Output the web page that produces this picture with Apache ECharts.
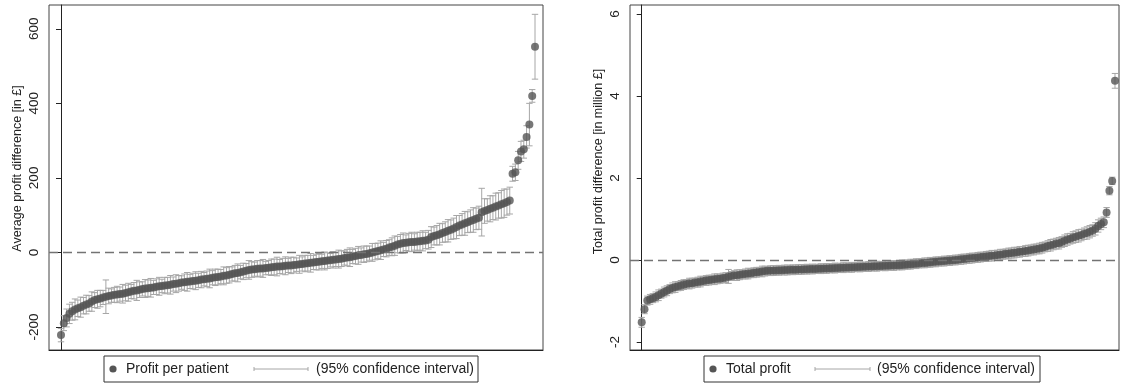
<!DOCTYPE html>
<html>
<head>
<meta charset="utf-8">
<script src="https://cdn.jsdelivr.net/npm/echarts@6/dist/echarts.min.js"></script>
<style>
html, body { margin: 0; padding: 0; background: #fff; }
#chart { width: 1121px; height: 385px; }
</style>
</head>
<body>
<div id="chart"></div>
<script>
// Average profit difference per patient (£), hospitals ranked by estimate
const profitPerPatient = [
  -222, -190, -176, -165, -158, -153, -150, -147, -143, -140,
  -137, -132, -128, -126, -124, -121, -119, -117, -116, -114,
  -113, -112, -111, -109, -107, -105, -103, -102, -100, -98,
  -97, -96, -95, -94, -92, -91, -90, -89, -88, -87,
  -85, -84, -83, -81, -80, -79, -78, -77, -76, -75,
  -73, -72, -71, -70, -68, -67, -66, -65, -63, -62,
  -60, -58, -56, -55, -53, -51, -49, -47, -46, -45,
  -44, -43, -43, -42, -41, -40, -39, -38, -38, -37,
  -36, -35, -35, -34, -33, -32, -31, -30, -29, -28,
  -27, -26, -25, -24, -23, -22, -21, -20, -19, -18,
  -17, -15, -14, -13, -11, -10, -8, -7, -5, -4,
  -2, 0, 2, 4, 6, 8, 10, 13, 15, 18,
  21, 23, 25, 26, 27, 28, 28, 29, 30, 31,
  32, 34, 41, 44, 46, 49, 52, 55, 58, 61,
  64, 68, 72, 75, 78, 81, 84, 87, 90, 93,
  108, 111, 114, 117, 120, 123, 126, 129, 132, 135,
  139, 211, 215, 247, 271, 277, 310, 343, 420, 552
];
// Half-width of the 95% confidence interval (£)
const profitPerPatientCI = [
  18, 20, 24, 26, 24, 28, 22, 27, 22, 25,
  21, 26, 20, 24, 22, 19, 45, 21, 18, 20,
  22, 19, 25, 21, 24, 19, 22, 27, 21, 19,
  24, 22, 25, 19, 21, 24, 18, 22, 21, 25,
  19, 24, 21, 18, 22, 25, 19, 21, 24, 19,
  22, 18, 21, 25, 19, 22, 21, 19, 24, 21,
  22, 19, 21, 24, 18, 22, 19, 25, 21, 19,
  22, 21, 24, 18, 19, 22, 21, 25, 19, 21,
  24, 19, 22, 21, 18, 24, 19, 22, 21, 25,
  19, 21, 22, 19, 24, 21, 18, 22, 19, 24,
  21, 19, 22, 25, 19, 21, 24, 19, 22, 21,
  19, 24, 22, 21, 25, 19, 22, 21, 24, 26,
  22, 25, 27, 21, 24, 26, 22, 25, 24, 27,
  22, 25, 28, 24, 26, 29, 25, 27, 30, 26,
  28, 31, 27, 29, 32, 28, 30, 33, 29, 31,
  64, 33, 30, 35, 32, 36, 34, 37, 38, 35,
  36, 20, 22, 24, 27, 24, 30, 57, 17, 87
];
// Total profit difference per hospital (million £), ranked by estimate
const totalProfit = [
  -1.52, -1.20, -0.99, -0.96, -0.93, -0.90, -0.86, -0.82, -0.78, -0.75,
  -0.71, -0.68, -0.66, -0.64, -0.62, -0.60, -0.585, -0.575, -0.565, -0.55,
  -0.54, -0.525, -0.51, -0.50, -0.49, -0.48, -0.47, -0.46, -0.455, -0.44,
  -0.43, -0.40, -0.39, -0.38, -0.37, -0.36, -0.35, -0.34, -0.33, -0.32,
  -0.31, -0.30, -0.29, -0.28, -0.27, -0.265, -0.26, -0.257, -0.254, -0.251,
  -0.248, -0.245, -0.243, -0.240, -0.238, -0.235, -0.232, -0.229, -0.226, -0.224,
  -0.222, -0.220, -0.217, -0.214, -0.211, -0.208, -0.205, -0.202, -0.199, -0.196,
  -0.193, -0.190, -0.187, -0.184, -0.181, -0.178, -0.175, -0.172, -0.169, -0.166,
  -0.163, -0.160, -0.157, -0.154, -0.151, -0.148, -0.145, -0.142, -0.139, -0.136,
  -0.133, -0.130, -0.127, -0.121, -0.115, -0.108, -0.102, -0.095, -0.089, -0.083,
  -0.076, -0.070, -0.064, -0.057, -0.051, -0.045, -0.038, -0.032, -0.026, -0.019,
  -0.013, -0.006, 0.000, 0.008, 0.016, 0.024, 0.032, 0.040, 0.048, 0.056,
  0.064, 0.072, 0.080, 0.088, 0.096, 0.104, 0.112, 0.121, 0.130, 0.14,
  0.15, 0.16, 0.17, 0.18, 0.19, 0.20, 0.21, 0.22, 0.23, 0.245,
  0.255, 0.27, 0.28, 0.30, 0.32, 0.34, 0.36, 0.38, 0.40, 0.41,
  0.44, 0.47, 0.50, 0.52, 0.55, 0.57, 0.59, 0.61, 0.64, 0.66,
  0.69, 0.72, 0.76, 0.83, 0.88, 0.92, 1.16, 1.69, 1.93, 4.37
];
// Half-width of the 95% confidence interval (million £)
const totalProfitCI = [
  0.12, 0.11, 0.11, 0.12, 0.11, 0.12, 0.13, 0.11, 0.12, 0.12,
  0.11, 0.12, 0.13, 0.11, 0.12, 0.12, 0.11, 0.13, 0.12, 0.11,
  0.12, 0.13, 0.11, 0.12, 0.12, 0.11, 0.13, 0.12, 0.11, 0.12,
  0.12, 0.17, 0.11, 0.12, 0.13, 0.12, 0.11, 0.12, 0.13, 0.11,
  0.12, 0.12, 0.11, 0.13, 0.12, 0.11, 0.12, 0.12, 0.11, 0.12,
  0.11, 0.12, 0.12, 0.11, 0.12, 0.11, 0.12, 0.12, 0.11, 0.12,
  0.11, 0.12, 0.11, 0.11, 0.12, 0.11, 0.12, 0.11, 0.11, 0.12,
  0.11, 0.11, 0.12, 0.11, 0.11, 0.12, 0.11, 0.11, 0.12, 0.11,
  0.11, 0.12, 0.11, 0.11, 0.12, 0.11, 0.11, 0.12, 0.11, 0.11,
  0.12, 0.11, 0.11, 0.12, 0.11, 0.11, 0.12, 0.11, 0.12, 0.11,
  0.11, 0.12, 0.11, 0.12, 0.11, 0.12, 0.11, 0.11, 0.12, 0.11,
  0.12, 0.11, 0.12, 0.11, 0.12, 0.12, 0.11, 0.12, 0.12, 0.11,
  0.12, 0.12, 0.11, 0.12, 0.12, 0.13, 0.12, 0.12, 0.13, 0.12,
  0.12, 0.13, 0.12, 0.13, 0.12, 0.13, 0.12, 0.13, 0.13, 0.12,
  0.13, 0.12, 0.13, 0.13, 0.12, 0.13, 0.14, 0.13, 0.13, 0.14,
  0.13, 0.14, 0.14, 0.13, 0.14, 0.14, 0.15, 0.14, 0.14, 0.15,
  0.15, 0.14, 0.15, 0.15, 0.14, 0.13, 0.12, 0.10, 0.09, 0.18
];
const leftTicks = [-200, 0, 200, 400, 600];
const rightTicks = [-2, 0, 2, 4, 6];

const FONT = 'Liberation Sans, Arial, Helvetica, sans-serif';
const DOT = '#555555';
const BAR = '#a6a6a6';
const INK = '#222';

const chart = echarts.init(document.getElementById('chart'), null, { renderer: 'canvas' });

// Vertical interval with a cap at each end
function ciBar(params, api) {
  const x = api.value(0);
  const top = api.coord([x, api.value(2)]);
  const bot = api.coord([x, api.value(1)]);
  const w = 3.2;
  const st = { stroke: BAR, lineWidth: 1 };
  return {
    type: 'group',
    children: [
      { type: 'line', shape: { x1: top[0], y1: top[1], x2: bot[0], y2: bot[1] }, style: st },
      { type: 'line', shape: { x1: top[0] - w, y1: top[1], x2: top[0] + w, y2: top[1] }, style: st },
      { type: 'line', shape: { x1: bot[0] - w, y1: bot[1], x2: bot[0] + w, y2: bot[1] }, style: st }
    ]
  };
}

function yAxisOf(gridIndex, min, max, ticks, title, shiftUp) {
  return {
    gridIndex, type: 'value', min, max,
    axisLine: { show: true, lineStyle: { color: INK, width: 1 } },
    axisTick: { show: true, length: 5, customValues: ticks, lineStyle: { color: INK } },
    axisLabel: { customValues: ticks, rotate: 90, margin: 8, color: INK, fontSize: 13.5, fontFamily: FONT },
    splitLine: { show: false },
    name: title, nameLocation: 'middle', nameGap: 25,
    nameTextStyle: { color: INK, fontSize: 12.5, fontFamily: FONT, padding: [0, 0, 0, shiftUp * 2] }
  };
}

function xAxisOf(gridIndex, min, max) {
  return {
    gridIndex, type: 'value', min, max,
    axisLine: { show: true, onZero: false, lineStyle: { color: INK, width: 1 } },
    axisTick: { show: false }, axisLabel: { show: false }, splitLine: { show: false }
  };
}

function seriesOf(idx, values, ci) {
  const zeroLine = {
    silent: true, symbol: 'none', label: { show: false },
    lineStyle: { color: '#737373', type: [9, 5], width: 1.4 },
    data: [{ yAxis: 0 }]
  };
  return [
    {
      type: 'custom', xAxisIndex: idx, yAxisIndex: idx,
      renderItem: ciBar, encode: { x: 0, y: [1, 2] },
      data: values.map((v, i) => [i, v - ci[i], v + ci[i]]),
      markLine: zeroLine, z: 2
    },
    {
      type: 'scatter', xAxisIndex: idx, yAxisIndex: idx,
      symbol: 'circle', symbolSize: 8,
      itemStyle: { color: DOT },
      data: values.map((v, i) => [i, v]), z: 3
    }
  ];
}

function legendOf(x, w, dotX, label, lineX1, lineX2, ciX) {
  const cy = 369;
  const grey = { stroke: BAR, lineWidth: 1 };
  return [
    { type: 'rect', shape: { x: x, y: 356, width: w, height: 26 }, style: { fill: '#fff', stroke: '#333', lineWidth: 1 } },
    { type: 'circle', shape: { cx: dotX, cy: cy, r: 3.6 }, style: { fill: DOT } },
    { type: 'text', x: dotX + 13, y: cy, style: { text: label, font: '14px ' + FONT, fill: INK, verticalAlign: 'middle' } },
    { type: 'line', shape: { x1: lineX1, y1: cy, x2: lineX2, y2: cy }, style: grey },
    { type: 'line', shape: { x1: lineX1, y1: cy - 2, x2: lineX1, y2: cy + 2 }, style: grey },
    { type: 'line', shape: { x1: lineX2, y1: cy - 2, x2: lineX2, y2: cy + 2 }, style: grey },
    { type: 'text', x: ciX, y: cy, style: { text: '(95% confidence interval)', font: '14px ' + FONT, fill: INK, verticalAlign: 'middle' } }
  ];
}

chart.setOption({
  animation: false,
  backgroundColor: '#fff',
  grid: [
    { left: 49, top: 5, width: 494, height: 345, show: true, borderColor: '#444', borderWidth: 1 },
    { left: 630, top: 5, width: 489, height: 345, show: true, borderColor: '#444', borderWidth: 1 }
  ],
  xAxis: [xAxisOf(0, -4.28, 171.85), xAxisOf(1, -4.18, 170.43)],
  yAxis: [
    yAxisOf(0, -262, 664, leftTicks, 'Average profit difference [in £]', 9),
    yAxisOf(1, -2.195, 6.22, rightTicks, 'Total profit difference [in million £]', 16)
  ],
  series: [
    ...seriesOf(0, profitPerPatient, profitPerPatientCI),
    ...seriesOf(1, totalProfit, totalProfitCI)
  ],
  graphic: [
    ...legendOf(104, 374, 113, 'Profit per patient', 254, 308, 316),
    ...legendOf(704, 336, 713, 'Total profit', 815, 870, 877)
  ]
});
</script>
</body>
</html>
